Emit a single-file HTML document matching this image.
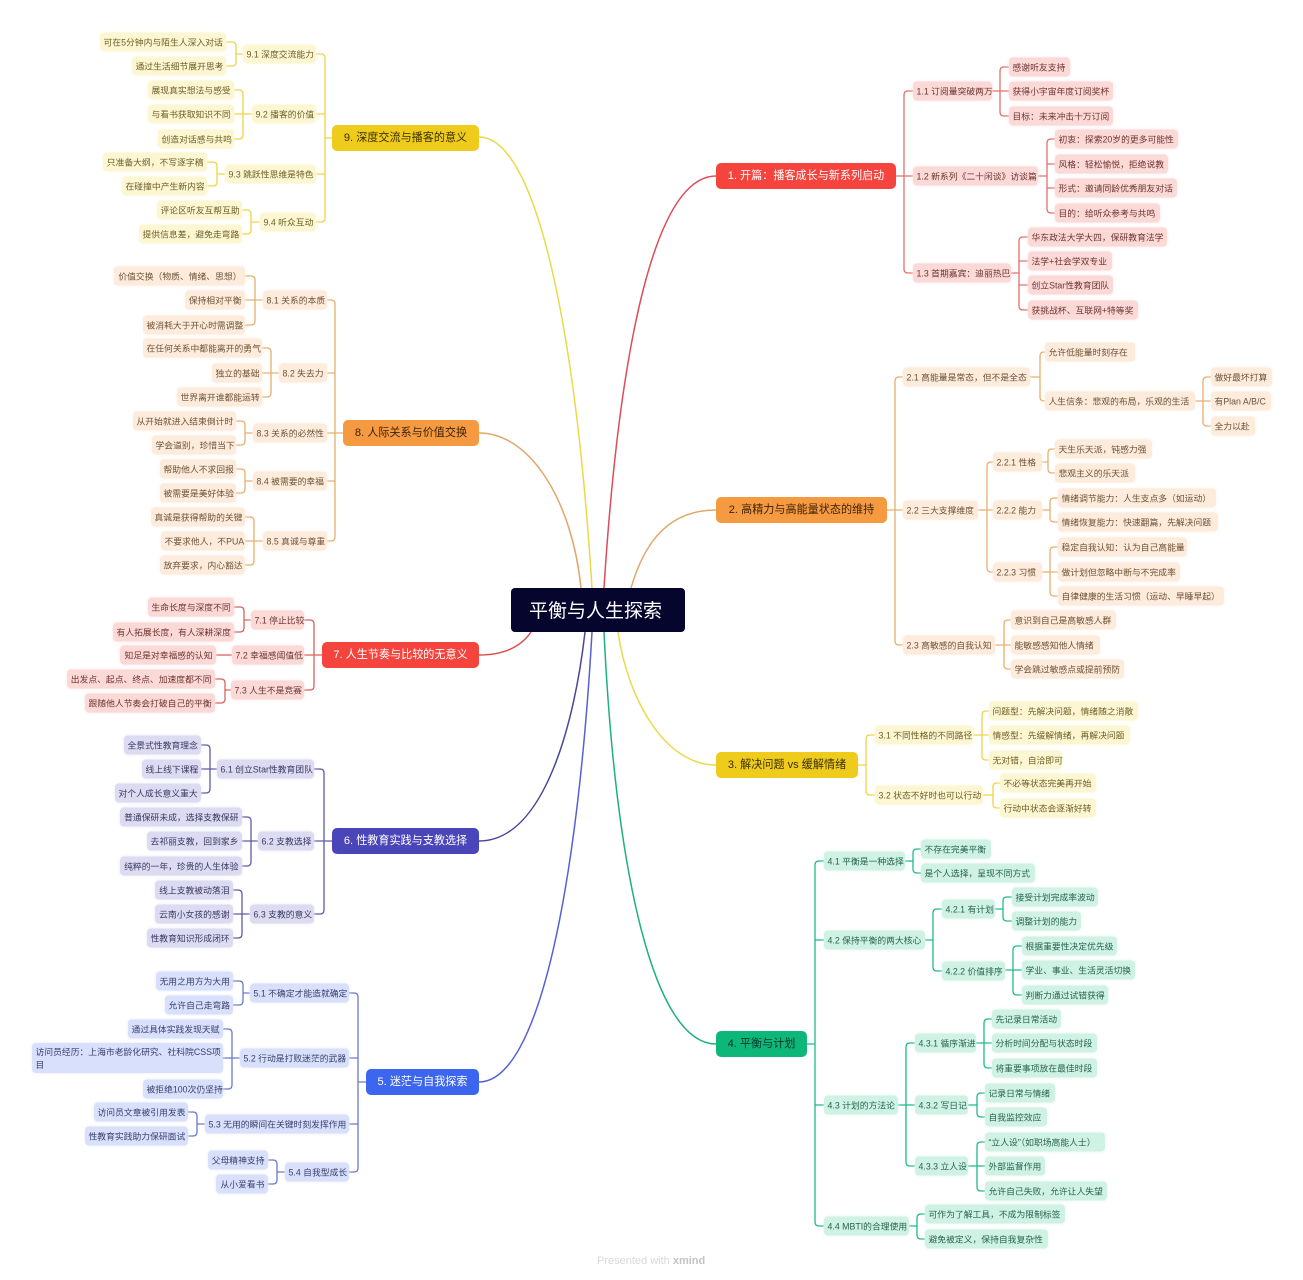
<!DOCTYPE html>
<html lang="zh"><head><meta charset="utf-8"><title>平衡与人生探索</title>
<style>
html,body{margin:0;padding:0;background:#fff}
#p{position:relative;width:1303px;height:1280px;overflow:hidden;background:#fff;font-family:"Liberation Sans","Noto Sans CJK SC",sans-serif;filter:blur(.3px)}
svg{position:absolute;left:0;top:0}
path{fill:none;stroke-width:1.3}
.n{position:absolute;transform:translateY(-50%);height:19px;line-height:21px;font-size:8.8px;border-radius:4px;white-space:nowrap;box-sizing:border-box;padding:0 3.5px;box-shadow:0 0 3px var(--b)}
.l .n{text-align:right}
.m{position:absolute;transform:translateY(-50%);height:26px;line-height:27.5px;font-size:11.1px;border-radius:5px;text-align:center;white-space:nowrap}
.c1 .n{background:#fbd9d7;color:#6e3432;--b:#fbe4e3}.c1 .m{background:#f5433d;color:#fff}
.c2 .n{background:#fdebdc;color:#6e5236;--b:#fdf1e7}.c2 .m{background:#f59a40;color:#3c2208}
.c3 .n{background:#fdf6d3;color:#6c5f24;--b:#fdf9e2}.c3 .m{background:#efcb1c;color:#3a3005}
.c4 .n{background:#cff2e4;color:#27644e;--b:#def6ec}.c4 .m{background:#0db77a;color:#06352a}
.c5 .n{background:#d9e0fc;color:#39406e;--b:#e6eafd}.c5 .m{background:#3d66f0;color:#fff}
.c6 .n{background:#dcdbf2;color:#3b3960;--b:#e8e7f6}.c6 .m{background:#4a45b8;color:#fff}
.c7 .n{background:#fbd9d7;color:#6e3432;--b:#fbe4e3}.c7 .m{background:#f5433d;color:#fff}
.c8 .n{background:#fdebdc;color:#6e5236;--b:#fdf1e7}.c8 .m{background:#f59a40;color:#3c2208}
.c9 .n{background:#fdf6d3;color:#6c5f24;--b:#fdf9e2}.c9 .m{background:#efcb1c;color:#3a3005}
#r{position:absolute;left:511px;top:588px;width:174px;height:44px;line-height:47px;box-sizing:border-box;padding-right:5px;background:#05052e;color:#fff;font-size:19px;text-align:center;border-radius:4px}
#f{position:absolute;left:597px;top:1255px;font-size:11px;color:#d8d8d8;white-space:nowrap}
#f b{color:#c4c4c4}
</style></head><body><div id="p">
<svg width="1303" height="1280" viewBox="0 0 1303 1280">
<!-- main curves -->
<g style="stroke-width:1.5">
<path style="stroke-width:1.5" stroke="#dd4c58" d="M604 588C621 320 660 176 716 176"/>
<path style="stroke-width:1.5" stroke="#dfa76a" d="M631 588C645 540 670 510 716 510"/>
<path style="stroke-width:1.5" stroke="#e9da48" d="M618 632C628 700 665 765 716 765"/>
<path style="stroke-width:1.5" stroke="#1faf84" d="M604 632C616 880 655 1044 716 1044"/>
<path style="stroke-width:1.5" stroke="#5560d8" d="M592 632C578 880 540 1082 479 1082"/>
<path style="stroke-width:1.5" stroke="#4a4698" d="M585 632C575 720 545 841 479 841"/>
<path style="stroke-width:1.5" stroke="#dc5050" d="M531 632C520 648 502 655 479 655"/>
<path style="stroke-width:1.5" stroke="#dfa76a" d="M581 588C572 500 530 433 479 433"/>
<path style="stroke-width:1.5" stroke="#e9da48" d="M592 588C575 320 535 137 479 137"/>
</g>
<g stroke="#e2706c">
<path d="M913 91H908Q904 91 904 95V269Q904 273 908 273H913M896 176H913"/>
<path d="M1009 67H1004Q1000 67 1000 71V112Q1000 116 1004 116H1009M992 91H1009"/>
<path d="M1055 139H1051Q1047 139 1047 143V209Q1047 213 1051 213H1055M1038 176H1047M1047 164H1055M1047 188H1055"/>
<path d="M1028 237H1023Q1019 237 1019 241V306Q1019 310 1023 310H1028M1011 273H1019M1019 261H1028M1019 285H1028"/>
</g>
<g stroke="#e9ae6c">
<path d="M903 377H899Q895 377 895 381V641Q895 645 899 645H903M887 510H903"/>
<path d="M1047 352H1044Q1040 352 1040 356V397Q1040 401 1044 401H1047M1030 377H1040"/>
<path d="M1211 377H1207Q1203 377 1203 381V422Q1203 426 1207 426H1211M1195 401H1211"/>
<path d="M993 462H991Q987 462 987 466V568Q987 572 991 572H993M978 510H993"/>
<path d="M1055 449H1052Q1048 449 1048 453V469Q1048 473 1052 473H1055M1042 462H1048"/>
<path d="M1058 498H1054Q1050 498 1050 502V518Q1050 522 1054 522H1058M1042 510H1050"/>
<path d="M1058 547H1054Q1050 547 1050 551V592Q1050 596 1054 596H1058M1042 572H1058"/>
<path d="M1011 620H1008Q1004 620 1004 624V665Q1004 669 1008 669H1011M995 645H1011"/>
</g>
<g stroke="#efd347">
<path d="M875 735H870Q866 735 866 739V791Q866 795 870 795H875M858 765H866"/>
<path d="M989 711H986Q982 711 982 715V756Q982 760 986 760H989M973 735H989"/>
<path d="M1000 783H997Q993 783 993 787V804Q993 808 997 808H1000M983 795H993"/>
</g>
<g stroke="#1fbb8a">
<path d="M824 861H819Q815 861 815 865V1222Q815 1226 819 1226H824M807 1044H815M815 940H824M815 1105H824"/>
<path d="M921 849H917Q913 849 913 853V869Q913 873 917 873H921M905 861H913"/>
<path d="M942 909H937Q933 909 933 913V967Q933 971 937 971H942M925 940H933"/>
<path d="M1012 897H1007Q1003 897 1003 901V917Q1003 921 1007 921H1012M995 909H1003"/>
<path d="M1022 946H1017Q1013 946 1013 950V991Q1013 995 1017 995H1022M1005 970H1022"/>
<path d="M915 1043H910Q906 1043 906 1047V1162Q906 1166 910 1166H915M898 1105H915"/>
<path d="M992 1019H988Q984 1019 984 1023V1064Q984 1068 988 1068H992M976 1043H992"/>
<path d="M985 1093H981Q977 1093 977 1097V1113Q977 1117 981 1117H985M968 1105H977"/>
<path d="M985 1142H981Q977 1142 977 1146V1187Q977 1191 981 1191H985M968 1166H985"/>
<path d="M925 1214H921Q917 1214 917 1218V1235Q917 1239 921 1239H925M909 1226H917"/>
</g>
<g stroke="#6b7ac8">
<path d="M349 993H354Q358 993 358 997V1168Q358 1172 354 1172H349M366 1082H358M358 1058H349M358 1124H349"/>
<path d="M233 981H239Q243 981 243 985V1001Q243 1005 239 1005H233M250 993H243"/>
<path d="M223 1029H228Q232 1029 232 1033V1085Q232 1089 228 1089H223M240 1058H223"/>
<path d="M188 1112H193Q197 1112 197 1116V1132Q197 1136 193 1136H188M205 1124H197"/>
<path d="M268 1160H273Q277 1160 277 1164V1180Q277 1184 273 1184H268M285 1172H277"/>
</g>
<g stroke="#5f5aa8">
<path d="M314 769H320Q324 769 324 773V910Q324 914 320 914H314M332 841H314"/>
<path d="M201 745H206Q210 745 210 749V789Q210 793 206 793H201M217 769H201"/>
<path d="M242 817H247Q251 817 251 821V862Q251 866 247 866H242M258 841H242"/>
<path d="M233 890H238Q242 890 242 894V934Q242 938 238 938H233M250 914H233"/>
</g>
<g stroke="#d9625c">
<path d="M304 620H310Q314 620 314 624V686Q314 690 310 690H304M322 655H304"/>
<path d="M234 607H240Q244 607 244 611V628Q244 632 240 632H234M251 620H244"/>
<path d="M216 655H232"/>
<path d="M215 679H221Q225 679 225 683V699Q225 703 221 703H215M231 690H225"/>
</g>
<g stroke="#e9ae6c">
<path d="M327 300H331Q335 300 335 304V537Q335 541 331 541H327M343 433H327M335 373H327M335 481H327"/>
<path d="M245 276H251Q255 276 255 280V321Q255 325 251 325H245M263 300H245"/>
<path d="M262 348H267Q271 348 271 352V393Q271 397 267 397H262M279 373H262"/>
<path d="M236 421H241Q245 421 245 425V441Q245 445 241 445H236M253 433H245"/>
<path d="M236 469H241Q245 469 245 473V489Q245 493 241 493H236M253 481H245"/>
<path d="M245 517H250Q254 517 254 521V561Q254 565 250 565H245M263 541H245"/>
</g>
<g stroke="#efd347">
<path d="M316 54H321Q325 54 325 58V218Q325 222 321 222H316M332 138H325M325 114H316M325 174H316"/>
<path d="M226 42H232Q236 42 236 46V62Q236 66 232 66H226M243 54H236"/>
<path d="M234 90H239Q243 90 243 94V135Q243 139 239 139H234M252 114H234"/>
<path d="M207 162H213Q217 162 217 166V182Q217 186 213 186H207M225 174H217"/>
<path d="M242 210H247Q251 210 251 214V230Q251 234 247 234H242M260 222H251"/>
</g>
</svg>

<div id="r">平衡与人生探索</div>

<div class="c1">
<div class="m" style="left:716px;top:176px;width:180px">1. 开篇：播客成长与新系列启动</div>
<div class="n" style="left:913px;top:91px;width:79px">1.1 订阅量突破两万</div>
<div class="n" style="left:913px;top:176px;width:125px">1.2 新系列《二十闲谈》访谈篇</div>
<div class="n" style="left:913px;top:273px;width:98px">1.3 首期嘉宾：迪丽热巴</div>
<div class="n" style="left:1009px;top:67px;width:61px">感谢听友支持</div>
<div class="n" style="left:1009px;top:91px;width:104px">获得小宇宙年度订阅奖杯</div>
<div class="n" style="left:1009px;top:116px;width:104px">目标：未来冲击十万订阅</div>
<div class="n" style="left:1055px;top:139px;width:123px">初衷：探索20岁的更多可能性</div>
<div class="n" style="left:1055px;top:164px;width:113px">风格：轻松愉悦，拒绝说教</div>
<div class="n" style="left:1055px;top:188px;width:122px">形式：邀请同龄优秀朋友对话</div>
<div class="n" style="left:1055px;top:213px;width:105px">目的：给听众参考与共鸣</div>
<div class="n" style="left:1028px;top:237px;width:139px">华东政法大学大四，保研教育法学</div>
<div class="n" style="left:1028px;top:261px;width:84px">法学+社会学双专业</div>
<div class="n" style="left:1028px;top:285px;width:85px">创立Star性教育团队</div>
<div class="n" style="left:1028px;top:310px;width:110px">获挑战杯、互联网+特等奖</div>
</div>

<div class="c2">
<div class="m" style="left:716px;top:510px;width:171px">2. 高精力与高能量状态的维持</div>
<div class="n" style="left:903px;top:377px;width:127px">2.1 高能量是常态，但不是全态</div>
<div class="n" style="left:903px;top:510px;width:75px">2.2 三大支撑维度</div>
<div class="n" style="left:903px;top:645px;width:92px">2.3 高敏感的自我认知</div>
<div class="n" style="left:1045px;top:352px;width:90px">允许低能量时刻存在</div>
<div class="n" style="left:1045px;top:401px;width:150px">人生信条：悲观的布局，乐观的生活</div>
<div class="n" style="left:1211px;top:377px;width:61px">做好最坏打算</div>
<div class="n" style="left:1211px;top:401px;width:60px">有Plan A/B/C</div>
<div class="n" style="left:1211px;top:426px;width:44px">全力以赴</div>
<div class="n" style="left:993px;top:462px;width:49px">2.2.1 性格</div>
<div class="n" style="left:993px;top:510px;width:49px">2.2.2 能力</div>
<div class="n" style="left:993px;top:572px;width:49px">2.2.3 习惯</div>
<div class="n" style="left:1055px;top:449px;width:97px">天生乐天派，钝感力强</div>
<div class="n" style="left:1055px;top:473px;width:80px">悲观主义的乐天派</div>
<div class="n" style="left:1058px;top:498px;width:158px">情绪调节能力：人生支点多（如运动）</div>
<div class="n" style="left:1058px;top:522px;width:160px">情绪恢复能力：快速翻篇，先解决问题</div>
<div class="n" style="left:1058px;top:547px;width:129px">稳定自我认知：认为自己高能量</div>
<div class="n" style="left:1058px;top:572px;width:122px">做计划但忽略中断与不完成率</div>
<div class="n" style="left:1058px;top:596px;width:166px">自律健康的生活习惯（运动、早睡早起）</div>
<div class="n" style="left:1011px;top:620px;width:105px">意识到自己是高敏感人群</div>
<div class="n" style="left:1011px;top:645px;width:89px">能敏感感知他人情绪</div>
<div class="n" style="left:1011px;top:669px;width:113px">学会跳过敏感点或提前预防</div>
</div>

<div class="c3">
<div class="m" style="left:716px;top:765px;width:142px">3. 解决问题 vs 缓解情绪</div>
<div class="n" style="left:875px;top:735px;width:98px">3.1 不同性格的不同路径</div>
<div class="n" style="left:875px;top:795px;width:108px">3.2 状态不好时也可以行动</div>
<div class="n" style="left:989px;top:711px;width:149px">问题型：先解决问题，情绪随之消散</div>
<div class="n" style="left:989px;top:735px;width:141px">情感型：先缓解情绪，再解决问题</div>
<div class="n" style="left:989px;top:760px;width:73px">无对错，自洽即可</div>
<div class="n" style="left:1000px;top:783px;width:96px">不必等状态完美再开始</div>
<div class="n" style="left:1000px;top:808px;width:96px">行动中状态会逐渐好转</div>
</div>

<div class="c4">
<div class="m" style="left:716px;top:1044px;width:91px">4. 平衡与计划</div>
<div class="n" style="left:824px;top:861px;width:81px">4.1 平衡是一种选择</div>
<div class="n" style="left:824px;top:940px;width:101px">4.2 保持平衡的两大核心</div>
<div class="n" style="left:824px;top:1105px;width:74px">4.3 计划的方法论</div>
<div class="n" style="left:824px;top:1226px;width:85px">4.4 MBTI的合理使用</div>
<div class="n" style="left:921px;top:849px;width:70px">不存在完美平衡</div>
<div class="n" style="left:921px;top:873px;width:114px">是个人选择，呈现不同方式</div>
<div class="n" style="left:942px;top:909px;width:53px">4.2.1 有计划</div>
<div class="n" style="left:942px;top:971px;width:63px">4.2.2 价值排序</div>
<div class="n" style="left:1012px;top:897px;width:86px">接受计划完成率波动</div>
<div class="n" style="left:1012px;top:921px;width:69px">调整计划的能力</div>
<div class="n" style="left:1022px;top:946px;width:95px">根据重要性决定优先级</div>
<div class="n" style="left:1022px;top:970px;width:113px">学业、事业、生活灵活切换</div>
<div class="n" style="left:1022px;top:995px;width:86px">判断力通过试错获得</div>
<div class="n" style="left:915px;top:1043px;width:61px">4.3.1 循序渐进</div>
<div class="n" style="left:915px;top:1105px;width:53px">4.3.2 写日记</div>
<div class="n" style="left:915px;top:1166px;width:53px">4.3.3 立人设</div>
<div class="n" style="left:992px;top:1019px;width:69px">先记录日常活动</div>
<div class="n" style="left:992px;top:1043px;width:105px">分析时间分配与状态时段</div>
<div class="n" style="left:992px;top:1068px;width:105px">将重要事项放在最佳时段</div>
<div class="n" style="left:985px;top:1093px;width:70px">记录日常与情绪</div>
<div class="n" style="left:985px;top:1117px;width:62px">自我监控效应</div>
<div class="n" style="left:985px;top:1142px;width:120px">“立人设”（如职场高能人士）</div>
<div class="n" style="left:985px;top:1166px;width:60px">外部监督作用</div>
<div class="n" style="left:985px;top:1191px;width:122px">允许自己失败，允许让人失望</div>
<div class="n" style="left:925px;top:1214px;width:140px">可作为了解工具，不成为限制标签</div>
<div class="n" style="left:925px;top:1239px;width:123px">避免被定义，保持自我复杂性</div>
</div>

<div class="c5 l">
<div class="m" style="left:366px;top:1082px;width:113px">5. 迷茫与自我探索</div>
<div class="n" style="left:250px;top:993px;width:99px">5.1 不确定才能造就确定</div>
<div class="n" style="left:240px;top:1058px;width:109px">5.2 行动是打败迷茫的武器</div>
<div class="n" style="left:205px;top:1124px;width:144px">5.3 无用的瞬间在关键时刻发挥作用</div>
<div class="n" style="left:285px;top:1172px;width:64px">5.4 自我型成长</div>
<div class="n" style="left:156px;top:981px;width:77px">无用之用方为大用</div>
<div class="n" style="left:165px;top:1005px;width:68px">允许自己走弯路</div>
<div class="n" style="left:128px;top:1029px;width:95px">通过具体实践发现天赋</div>
<div class="n" style="left:32px;top:1058px;width:191px;height:30px;line-height:13px;padding-top:3px;text-align:left">访问员经历：上海市老龄化研究、社科院CSS项<br>目</div>
<div class="n" style="left:143px;top:1089px;width:80px">被拒绝100次仍坚持</div>
<div class="n" style="left:94px;top:1112px;width:94px">访问员文章被引用发表</div>
<div class="n" style="left:85px;top:1136px;width:103px">性教育实践助力保研面试</div>
<div class="n" style="left:208px;top:1160px;width:60px">父母精神支持</div>
<div class="n" style="left:216px;top:1184px;width:52px">从小爱看书</div>
</div>

<div class="c6 l">
<div class="m" style="left:332px;top:841px;width:147px">6. 性教育实践与支教选择</div>
<div class="n" style="left:217px;top:769px;width:97px">6.1 创立Star性教育团队</div>
<div class="n" style="left:258px;top:841px;width:56px">6.2 支教选择</div>
<div class="n" style="left:250px;top:914px;width:64px">6.3 支教的意义</div>
<div class="n" style="left:124px;top:745px;width:77px">全景式性教育理念</div>
<div class="n" style="left:142px;top:769px;width:59px">线上线下课程</div>
<div class="n" style="left:115px;top:793px;width:86px">对个人成长意义重大</div>
<div class="n" style="left:120px;top:817px;width:122px">普通保研未成，选择支教保研</div>
<div class="n" style="left:147px;top:841px;width:95px">去祁丽支教，回到家乡</div>
<div class="n" style="left:120px;top:866px;width:122px">纯粹的一年，珍贵的人生体验</div>
<div class="n" style="left:155px;top:890px;width:78px">线上支教被动落泪</div>
<div class="n" style="left:155px;top:914px;width:78px">云南小女孩的感谢</div>
<div class="n" style="left:147px;top:938px;width:86px">性教育知识形成闭环</div>
</div>

<div class="c7 l">
<div class="m" style="left:322px;top:655px;width:157px">7. 人生节奏与比较的无意义</div>
<div class="n" style="left:251px;top:620px;width:53px">7.1 停止比较</div>
<div class="n" style="left:232px;top:655px;width:72px">7.2 幸福感阈值低</div>
<div class="n" style="left:231px;top:690px;width:73px">7.3 人生不是竞赛</div>
<div class="n" style="left:148px;top:607px;width:86px">生命长度与深度不同</div>
<div class="n" style="left:113px;top:632px;width:121px">有人拓展长度，有人深耕深度</div>
<div class="n" style="left:120px;top:655px;width:96px">知足是对幸福感的认知</div>
<div class="n" style="left:67px;top:679px;width:148px">出发点、起点、终点、加速度都不同</div>
<div class="n" style="left:85px;top:703px;width:130px">跟随他人节奏会打破自己的平衡</div>
</div>

<div class="c8 l">
<div class="m" style="left:343px;top:433px;width:136px">8. 人际关系与价值交换</div>
<div class="n" style="left:263px;top:300px;width:64px">8.1 关系的本质</div>
<div class="n" style="left:279px;top:373px;width:48px">8.2 失去力</div>
<div class="n" style="left:253px;top:433px;width:74px">8.3 关系的必然性</div>
<div class="n" style="left:253px;top:481px;width:74px">8.4 被需要的幸福</div>
<div class="n" style="left:263px;top:541px;width:64px">8.5 真诚与尊重</div>
<div class="n" style="left:114px;top:276px;width:131px">价值交换（物质、情绪、思想）</div>
<div class="n" style="left:185px;top:300px;width:60px">保持相对平衡</div>
<div class="n" style="left:143px;top:325px;width:102px">被消耗大于开心时需调整</div>
<div class="n" style="left:143px;top:348px;width:119px">在任何关系中都能离开的勇气</div>
<div class="n" style="left:212px;top:373px;width:50px">独立的基础</div>
<div class="n" style="left:177px;top:397px;width:85px">世界离开谁都能运转</div>
<div class="n" style="left:133px;top:421px;width:103px">从开始就进入结束倒计时</div>
<div class="n" style="left:152px;top:445px;width:84px">学会道别，珍惜当下</div>
<div class="n" style="left:160px;top:469px;width:76px">帮助他人不求回报</div>
<div class="n" style="left:160px;top:493px;width:76px">被需要是美好体验</div>
<div class="n" style="left:151px;top:517px;width:94px">真诚是获得帮助的关键</div>
<div class="n" style="left:161px;top:541px;width:84px">不要求他人，不PUA</div>
<div class="n" style="left:160px;top:565px;width:85px">放弃要求，内心豁达</div>
</div>

<div class="c9 l">
<div class="m" style="left:332px;top:138px;width:147px">9. 深度交流与播客的意义</div>
<div class="n" style="left:243px;top:54px;width:73px">9.1 深度交流能力</div>
<div class="n" style="left:252px;top:114px;width:64px">9.2 播客的价值</div>
<div class="n" style="left:225px;top:174px;width:91px">9.3 跳跃性思维是特色</div>
<div class="n" style="left:260px;top:222px;width:56px">9.4 听众互动</div>
<div class="n" style="left:100px;top:42px;width:126px">可在5分钟内与陌生人深入对话</div>
<div class="n" style="left:132px;top:66px;width:94px">通过生活细节展开思考</div>
<div class="n" style="left:148px;top:90px;width:86px">展现真实想法与感受</div>
<div class="n" style="left:148px;top:114px;width:86px">与看书获取知识不同</div>
<div class="n" style="left:158px;top:139px;width:76px">创造对话感与共鸣</div>
<div class="n" style="left:103px;top:162px;width:104px">只准备大纲，不写逐字稿</div>
<div class="n" style="left:122px;top:186px;width:85px">在碰撞中产生新内容</div>
<div class="n" style="left:157px;top:210px;width:85px">评论区听友互帮互助</div>
<div class="n" style="left:139px;top:234px;width:103px">提供信息差，避免走弯路</div>
</div>

<div id="f">Presented with <b>xmind</b></div>
</div></body></html>
